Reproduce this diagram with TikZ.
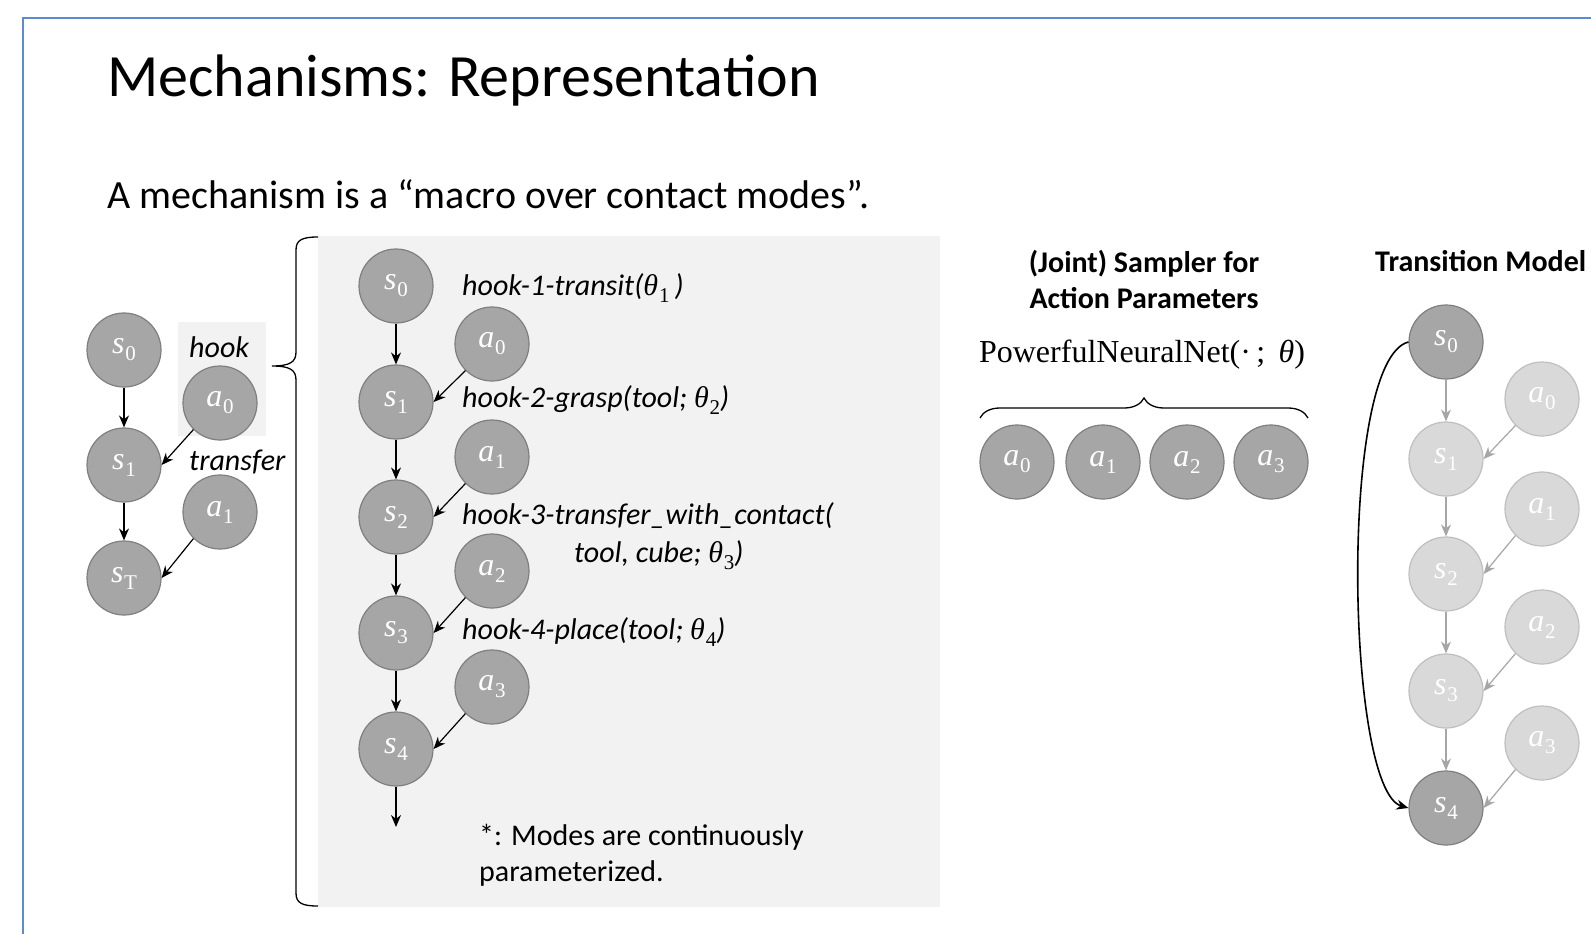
\documentclass[tikz,border=0pt]{standalone}
\usepackage{fontspec}
\setmainfont{Carlito}
\newfontfamily\lserif{Liberation Serif}
\usetikzlibrary{arrows.meta,decorations.pathreplacing}
\definecolor{cFill}{HTML}{A6A6A6}
\definecolor{cBorder}{HTML}{7F7F7F}
\definecolor{lFill}{HTML}{D9D9D9}
\definecolor{lBorder}{HTML}{BFBFBF}
\definecolor{gArrow}{HTML}{A6A6A6}
\definecolor{panel}{HTML}{F2F2F2}
\definecolor{frameblue}{HTML}{5B8BD0}
\newcommand\vv[2]{{\lserif\itshape #1}\kern0.02em\raisebox{-0.22em}{\lserif\upshape\fontsize{21}{21}\selectfont #2}}
\newcommand\thp[1]{{\lserif\itshape θ}\kern0.03em\raisebox{-0.22em}{\lserif\upshape\fontsize{21}{21}\selectfont #1}}
\tikzset{
  sn/.style={circle, draw=cBorder, fill=cFill, line width=1.2pt, minimum size=74pt, inner sep=0pt, text=white, font=\fontsize{32}{34}\selectfont},
  ln/.style={sn, draw=lBorder, fill=lFill},
  arr/.style={-{Stealth[length=12pt,width=10pt]}, line width=1.2pt},
  garr/.style={arr, draw=gArrow},
  lab/.style={font=\fontsize{30}{34}\selectfont\itshape, anchor=west, inner sep=0pt},
  txt/.style={font=\fontsize{30}{36}\selectfont, inner sep=0pt},
}
\begin{document}
\begin{tikzpicture}[x=1pt,y=-1pt]
\useasboundingbox (0,0) rectangle (1591,934);
\fill[white] (0,0) rectangle (1591,934);
% frame
\draw[frameblue, line width=2pt] (23,940) -- (23,18) -- (1600,18);
% title
\node[anchor=base west, inner sep=0pt, font=\fontsize{60}{64}\selectfont] (title) at (107,96) {Mechanisms: Representation};
\node[anchor=base west, inner sep=0pt, font=\fontsize{40}{44}\selectfont] (sub) at (107,208) {A mechanism is a “macro over contact modes”.};
% panels
\fill[panel] (318,236) rectangle (940,907);
\fill[panel] (178,322) rectangle (266,436);
% big brace
\draw[line width=1.3pt] (318,237) .. controls (302,237) and (296,240) .. (296,250) -- (296,352) .. controls (296,362) and (290,366) .. (272,366)
  .. controls (290,366) and (296,370) .. (296,380) -- (296,893) .. controls (296,903) and (302,906) .. (318,906);
% left graph
\node[sn] (ls0) at (124,350) {\vv{s}{0}};
\node[sn] (ls1) at (124,465) {\vv{s}{1}};
\node[sn] (lsT) at (124,578) {\vv{s}{T}};
\node[sn] (la0) at (220,403) {\vv{a}{0}};
\node[sn] (la1) at (220,512) {\vv{a}{1}};
\node[lab] (lhook) at (189,347) {hook};
\node[lab] (ltrans) at (189,462) {transfer};
\draw[arr] (ls0) -- (ls1);
\draw[arr] (ls1) -- (lsT);
\draw[arr] (la0.225) -- (ls1.east);
\draw[arr] (la1.225) -- (lsT.east);
% middle graph
\node[sn] (ms0) at (396,286) {\vv{s}{0}};
\node[sn] (ms1) at (396,402) {\vv{s}{1}};
\node[sn] (ms2) at (396,517) {\vv{s}{2}};
\node[sn] (ms3) at (396,633) {\vv{s}{3}};
\node[sn] (ms4) at (396,749) {\vv{s}{4}};
\node[sn] (ma0) at (492,344) {\vv{a}{0}};
\node[sn] (ma1) at (492,457) {\vv{a}{1}};
\node[sn] (ma2) at (492,571) {\vv{a}{2}};
\node[sn] (ma3) at (492,687) {\vv{a}{3}};
\coordinate (mend) at (396,827);
\draw[arr] (ms0) -- (ms1);
\draw[arr] (ms1) -- (ms2);
\draw[arr] (ms2) -- (ms3);
\draw[arr] (ms3) -- (ms4);
\draw[arr] (ms4) -- (mend);
\draw[arr] (ma0.225) -- (ms1.east);
\draw[arr] (ma1.225) -- (ms2.east);
\draw[arr] (ma2.225) -- (ms3.east);
\draw[arr] (ma3.225) -- (ms4.east);
\node[lab] (h1) at (462,288) {hook-1-transit(\thp{1}\,)};
\node[lab] (h2) at (462,400) {hook-2-grasp(tool; \thp{2})};
\node[lab] (h3) at (462,516) {hook-3-transfer\_with\_contact(};
\node[lab] (h3b) at (574,555) {tool, cube; \thp{3})};
\node[lab] (h4) at (462,632) {hook-4-place(tool; \thp{4})};
\node[txt, anchor=west, align=left] (note) at (479,855) {*: Modes are continuously\\parameterized.};
% sampler
\node[txt, align=center, font=\fontsize{30}{36}\selectfont\bfseries] (samp) at (1144,279) {(Joint) Sampler for\\Action Parameters};
\node[inner sep=0pt, font=\fontsize{32}{34}\selectfont\lserif] (pnn) at (1142,355) {PowerfulNeuralNet(·\,;\, {\itshape θ})};
\coordinate (bl) at (980,418);
\coordinate (br) at (1308,418);
\draw[line width=1.3pt, decorate, decoration={brace, amplitude=20pt}] (bl) -- (br);
\node[sn] (ra0) at (1017,462) {\vv{a}{0}};
\node[sn] (ra1) at (1103,462) {\vv{a}{1}};
\node[sn] (ra2) at (1187,462) {\vv{a}{2}};
\node[sn] (ra3) at (1271,462) {\vv{a}{3}};
% transition model
\node[txt, anchor=west, font=\fontsize{30}{36}\selectfont\bfseries] (trans) at (1375,261) {Transition Model};
\node[sn] (ts0) at (1446,342) {\vv{s}{0}};
\node[ln] (ts1) at (1446,459) {\vv{s}{1}};
\node[ln] (ts2) at (1446,574) {\vv{s}{2}};
\node[ln] (ts3) at (1446,691) {\vv{s}{3}};
\node[sn] (ts4) at (1446,808) {\vv{s}{4}};
\node[ln] (ta0) at (1542,399) {\vv{a}{0}};
\node[ln] (ta1) at (1542,509) {\vv{a}{1}};
\node[ln] (ta2) at (1542,627) {\vv{a}{2}};
\node[ln] (ta3) at (1542,743) {\vv{a}{3}};
\draw[garr] (ts0) -- (ts1);
\draw[garr] (ts1) -- (ts2);
\draw[garr] (ts2) -- (ts3);
\draw[garr] (ts3) -- (ts4);
\draw[garr] (ta0.225) -- (ts1.east);
\draw[garr] (ta1.225) -- (ts2.east);
\draw[garr] (ta2.225) -- (ts3.east);
\draw[garr] (ta3.225) -- (ts4.east);
\draw[arr, line width=1.6pt] (ts0.west) .. controls (1338,360) and (1346,790) .. (ts4.west);
\end{tikzpicture}
\end{document}
